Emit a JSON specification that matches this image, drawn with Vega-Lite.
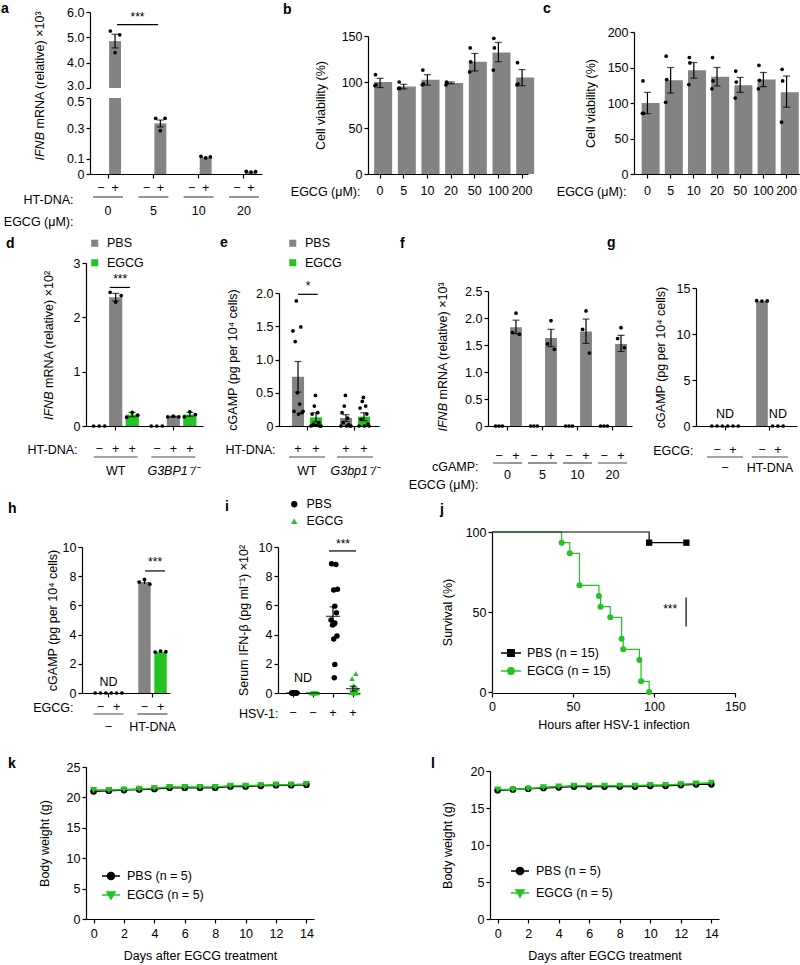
{
"$schema":"https://vega.github.io/schema/vega-lite/v6.json",
"background":"white",
"autosize":{"type":"none"},
"padding":{"left":0,"top":0,"right":800,"bottom":965},
"config":{
 "view":{"stroke":null},
 "font":"Liberation Sans",
 "axis":{"labelFont":"Liberation Sans","titleFont":"Liberation Sans","labelFontSize":12.5,"titleFontSize":12.5,"titleFontWeight":"normal","labelColor":"#000","titleColor":"#000","domainColor":"#000","tickColor":"#000","domainWidth":1.2,"tickWidth":1.2,"tickSize":4,"grid":false,"labelPadding":2,"labelFlush":false,"labelOverlap":false},
 "axisX":{"labelAngle":0},
 "legend":{"labelFont":"Liberation Sans","labelFontSize":12.5,"labelColor":"#000","padding":0},
 "title":{"font":"Liberation Sans","fontSize":14,"fontWeight":"bold","anchor":"start","frame":"group","color":"#000","offset":0,"baseline":"bottom"},
 "bar":{"color":"#838383"},
 "text":{"font":"Liberation Sans","fontSize":12.5,"color":"#000"},
 "tick":{"color":"#000","thickness":1.2},
 "rule":{"color":"#000","strokeWidth":1.2},
 "point":{"filled":true,"color":"#000","opacity":1},
 "line":{"strokeWidth":1.3}
},
"datasets":{
 "a_bar":[{"g":"0","s":"+","v":4.85},{"g":"5","s":"+","v":0.333},{"g":"10","s":"+","v":0.11},{"g":"20","s":"+","v":0.015}],
 "a_err":[{"g":"0","s":"+","v":4.58,"v2":5.12},{"g":"5","s":"+","v":0.31,"v2":0.355}],
 "a_dot":[{"g":"0","sr":"+1","v":5.25},{"g":"0","sr":"+2","v":4.4},{"g":"0","sr":"+3","v":5.1},{"g":"5","sr":"+1","v":0.366},{"g":"5","sr":"+2","v":0.285},{"g":"5","sr":"+3","v":0.366},{"g":"10","sr":"+1","v":0.116},{"g":"10","sr":"+2","v":0.106},{"g":"10","sr":"+3","v":0.112},{"g":"20","sr":"+1","v":0.017},{"g":"20","sr":"+2","v":0.013},{"g":"20","sr":"+3","v":0.016}],
 "a_sgn":[{"g":"0","s":"−","v":0},{"g":"0","s":"+","v":0},{"g":"5","s":"−","v":0},{"g":"5","s":"+","v":0},{"g":"10","s":"−","v":0},{"g":"10","s":"+","v":0},{"g":"20","s":"−","v":0},{"g":"20","s":"+","v":0}],
 "a_grp":[{"g":"0","v":0},{"g":"5","v":0},{"g":"10","v":0},{"g":"20","v":0}],
 "b_bar":[{"g":"0","v":100},{"g":"5","v":95},{"g":"10","v":102.5},{"g":"20","v":99},{"g":"50","v":122},{"g":"100","v":132},{"g":"200","v":105}],
 "b_err":[{"g":"0","v":94,"v2":104},{"g":"5","v":92.5,"v2":97.5},{"g":"10","v":96.5,"v2":108},{"g":"20","v":98,"v2":100},{"g":"50","v":112,"v2":131},{"g":"100","v":122,"v2":143},{"g":"200","v":96,"v2":113.5}],
 "b_dot":[{"g":"0","r":"1","v":96},{"g":"0","r":"2","v":108},{"g":"0","r":"3","v":97},{"g":"5","r":"1","v":93},{"g":"5","r":"2","v":100},{"g":"5","r":"3","v":93},{"g":"10","r":"1","v":97},{"g":"10","r":"2","v":113},{"g":"10","r":"3","v":98},{"g":"20","r":"1","v":97},{"g":"20","r":"2","v":100},{"g":"20","r":"3","v":99},{"g":"50","r":"1","v":111},{"g":"50","r":"2","v":137},{"g":"50","r":"3","v":122},{"g":"100","r":"1","v":113},{"g":"100","r":"2","v":147.5},{"g":"100","r":"3","v":137},{"g":"200","r":"1","v":97},{"g":"200","r":"2","v":121},{"g":"200","r":"3","v":98}],
 "c_bar":[{"g":"0","v":100},{"g":"5","v":132},{"g":"10","v":146},{"g":"20","v":137},{"g":"50","v":125},{"g":"100","v":133},{"g":"200","v":115}],
 "c_err":[{"g":"0","v":85,"v2":115},{"g":"5","v":114,"v2":150},{"g":"10","v":135,"v2":157},{"g":"20","v":124,"v2":150},{"g":"50","v":115,"v2":136},{"g":"100","v":123,"v2":143},{"g":"200","v":94,"v2":138}],
 "c_dot":[{"g":"0","r":"1","v":85.5},{"g":"0","r":"2","v":131},{"g":"0","r":"3","v":85.5},{"g":"5","r":"1","v":101},{"g":"5","r":"2","v":166},{"g":"5","r":"3","v":133},{"g":"10","r":"1","v":126},{"g":"10","r":"2","v":164},{"g":"10","r":"3","v":156.5},{"g":"20","r":"1","v":120},{"g":"20","r":"2","v":164},{"g":"20","r":"3","v":131},{"g":"50","r":"1","v":107},{"g":"50","r":"2","v":145},{"g":"50","r":"3","v":129.5},{"g":"100","r":"1","v":120},{"g":"100","r":"2","v":153},{"g":"100","r":"3","v":132},{"g":"200","r":"1","v":73},{"g":"200","r":"2","v":147.5},{"g":"200","r":"3","v":131}],
 "d_bar":[{"g":"WT","s":"2","t":"PBS","v":2.37},{"g":"WT","s":"3","t":"EGCG","v":0.21},{"g":"G3BP1⁻/⁻","s":"2","t":"PBS","v":0.17},{"g":"G3BP1⁻/⁻","s":"3","t":"EGCG","v":0.21}],
 "d_err":[{"g":"WT","s":"2","v":2.30,"v2":2.44},{"g":"WT","s":"3","v":0.17,"v2":0.25},{"g":"G3BP1⁻/⁻","s":"2","v":0.165,"v2":0.18},{"g":"G3BP1⁻/⁻","s":"3","v":0.18,"v2":0.25}],
 "d_dot":[{"g":"WT","sr":"11","v":0},{"g":"WT","sr":"12","v":0},{"g":"WT","sr":"13","v":0},{"g":"WT","sr":"21","v":2.46},{"g":"WT","sr":"22","v":2.28},{"g":"WT","sr":"23","v":2.40},{"g":"WT","sr":"31","v":0.16},{"g":"WT","sr":"32","v":0.25},{"g":"WT","sr":"33","v":0.2},{"g":"G3BP1⁻/⁻","sr":"11","v":0},{"g":"G3BP1⁻/⁻","sr":"12","v":0},{"g":"G3BP1⁻/⁻","sr":"13","v":0},{"g":"G3BP1⁻/⁻","sr":"21","v":0.17},{"g":"G3BP1⁻/⁻","sr":"22","v":0.18},{"g":"G3BP1⁻/⁻","sr":"23","v":0.17},{"g":"G3BP1⁻/⁻","sr":"31","v":0.17},{"g":"G3BP1⁻/⁻","sr":"32","v":0.26},{"g":"G3BP1⁻/⁻","sr":"33","v":0.21}],
 "d_sgn":[{"g":"WT","s":"1","lab":"−","v":0},{"g":"WT","s":"2","lab":"+","v":0},{"g":"WT","s":"3","lab":"+","v":0},{"g":"G3BP1⁻/⁻","s":"1","lab":"−","v":0},{"g":"G3BP1⁻/⁻","s":"2","lab":"+","v":0},{"g":"G3BP1⁻/⁻","s":"3","lab":"+","v":0}],
 "d_grp":[{"g":"WT","v":0},{"g":"G3BP1⁻/⁻","v":0}],
 "e_bar":[{"g":"WT","t":"PBS","v":0.74},{"g":"WT","t":"EGCG","v":0.13},{"g":"G3bp1⁻/⁻","t":"PBS","v":0.12},{"g":"G3bp1⁻/⁻","t":"EGCG","v":0.14}],
 "e_err":[{"g":"WT","t":"PBS","v":0.51,"v2":0.97},{"g":"WT","t":"EGCG","v":0.06,"v2":0.2},{"g":"G3bp1⁻/⁻","t":"PBS","v":0.07,"v2":0.17},{"g":"G3bp1⁻/⁻","t":"EGCG","v":0.08,"v2":0.2}],
 "e_dot":[{"g":"WT","tr":"P0","v":1.43},{"g":"WT","tr":"P1","v":0.22},{"g":"WT","tr":"P2","v":1.27},{"g":"WT","tr":"P3","v":1.88},{"g":"WT","tr":"P4","v":0.5},{"g":"WT","tr":"P5","v":0.18},{"g":"WT","tr":"P6","v":0.33},{"g":"WT","tr":"P7","v":1.49},{"g":"WT","tr":"P8","v":0.2},{"g":"WT","tr":"P9","v":0.22},
  {"g":"WT","tr":"E0","v":0},{"g":"WT","tr":"E1","v":0.18},{"g":"WT","tr":"E2","v":0.02},{"g":"WT","tr":"E3","v":0.3},{"g":"WT","tr":"E4","v":0.46},{"g":"WT","tr":"E5","v":0.01},{"g":"WT","tr":"E6","v":0.2},{"g":"WT","tr":"E7","v":0.05},{"g":"WT","tr":"E8","v":0},{"g":"WT","tr":"E9","v":0},
  {"g":"G3bp1⁻/⁻","tr":"P0","v":0},{"g":"G3bp1⁻/⁻","tr":"P1","v":0.2},{"g":"G3bp1⁻/⁻","tr":"P2","v":0.05},{"g":"G3bp1⁻/⁻","tr":"P3","v":0.3},{"g":"G3bp1⁻/⁻","tr":"P4","v":0.46},{"g":"G3bp1⁻/⁻","tr":"P5","v":0},{"g":"G3bp1⁻/⁻","tr":"P6","v":0.12},{"g":"G3bp1⁻/⁻","tr":"P7","v":0.02},{"g":"G3bp1⁻/⁻","tr":"P8","v":0},{"g":"G3bp1⁻/⁻","tr":"P9","v":0},
  {"g":"G3bp1⁻/⁻","tr":"E0","v":0},{"g":"G3bp1⁻/⁻","tr":"E1","v":0.27},{"g":"G3bp1⁻/⁻","tr":"E2","v":0.1},{"g":"G3bp1⁻/⁻","tr":"E3","v":0.37},{"g":"G3bp1⁻/⁻","tr":"E4","v":0.43},{"g":"G3bp1⁻/⁻","tr":"E5","v":0},{"g":"G3bp1⁻/⁻","tr":"E6","v":0.3},{"g":"G3bp1⁻/⁻","tr":"E7","v":0.18},{"g":"G3bp1⁻/⁻","tr":"E8","v":0.03},{"g":"G3bp1⁻/⁻","tr":"E9","v":0}],
 "e_sgn":[{"g":"WT","t":"PBS","lab":"+","v":0},{"g":"WT","t":"EGCG","lab":"+","v":0},{"g":"G3bp1⁻/⁻","t":"PBS","lab":"+","v":0},{"g":"G3bp1⁻/⁻","t":"EGCG","lab":"+","v":0}],
 "e_grp":[{"g":"WT","v":0},{"g":"G3bp1⁻/⁻","v":0}],
 "f_bar":[{"g":"0","s":"+","v":1.83},{"g":"5","s":"+","v":1.63},{"g":"10","s":"+","v":1.75},{"g":"20","s":"+","v":1.52}],
 "f_err":[{"g":"0","s":"+","v":1.71,"v2":1.96},{"g":"5","s":"+","v":1.47,"v2":1.79},{"g":"10","s":"+","v":1.53,"v2":1.98},{"g":"20","s":"+","v":1.38,"v2":1.68}],
 "f_dot":[{"g":"0","sr":"−1","v":0},{"g":"0","sr":"−2","v":0},{"g":"0","sr":"−3","v":0},{"g":"0","sr":"+1","v":1.73},{"g":"0","sr":"+2","v":2.09},{"g":"0","sr":"+3","v":1.70},
  {"g":"5","sr":"−1","v":0},{"g":"5","sr":"−2","v":0},{"g":"5","sr":"−3","v":0},{"g":"5","sr":"+1","v":1.52},{"g":"5","sr":"+2","v":1.95},{"g":"5","sr":"+3","v":1.42},
  {"g":"10","sr":"−1","v":0},{"g":"10","sr":"−2","v":0},{"g":"10","sr":"−3","v":0},{"g":"10","sr":"+1","v":1.79},{"g":"10","sr":"+2","v":2.13},{"g":"10","sr":"+3","v":1.35},
  {"g":"20","sr":"−1","v":0},{"g":"20","sr":"−2","v":0},{"g":"20","sr":"−3","v":0},{"g":"20","sr":"+1","v":1.62},{"g":"20","sr":"+2","v":1.82},{"g":"20","sr":"+3","v":1.45}],
 "f_sgn":[{"g":"0","s":"−","v":0},{"g":"0","s":"+","v":0},{"g":"5","s":"−","v":0},{"g":"5","s":"+","v":0},{"g":"10","s":"−","v":0},{"g":"10","s":"+","v":0},{"g":"20","s":"−","v":0},{"g":"20","s":"+","v":0}],
 "f_grp":[{"g":"0","v":0},{"g":"5","v":0},{"g":"10","v":0},{"g":"20","v":0}],
 "g_bar":[{"g":"HT-DNA","s":"−","v":13.6}],
 "g_err":[{"g":"HT-DNA","s":"−","v":13.55,"v2":13.65}],
 "g_dot":[{"g":"−","sr":"−1","v":0},{"g":"−","sr":"−2","v":0},{"g":"−","sr":"−3","v":0},{"g":"−","sr":"+1","v":0},{"g":"−","sr":"+2","v":0},{"g":"−","sr":"+3","v":0},{"g":"HT-DNA","sr":"−1","v":13.62},{"g":"HT-DNA","sr":"−2","v":13.58},{"g":"HT-DNA","sr":"−3","v":13.6},{"g":"HT-DNA","sr":"+1","v":0},{"g":"HT-DNA","sr":"+2","v":0},{"g":"HT-DNA","sr":"+3","v":0}],
 "g_sgn":[{"g":"−","s":"−","v":0},{"g":"−","s":"+","v":0},{"g":"HT-DNA","s":"−","v":0},{"g":"HT-DNA","s":"+","v":0}],
 "g_grp":[{"g":"−","v":0},{"g":"HT-DNA","v":0}],
 "h_bar":[{"g":"HT-DNA","s":"−","t":"PBS","v":7.6},{"g":"HT-DNA","s":"+","t":"EGCG","v":2.82}],
 "h_err":[{"g":"HT-DNA","s":"−","v":7.47,"v2":7.73},{"g":"HT-DNA","s":"+","v":2.79,"v2":2.86}],
 "h_dot":[{"g":"−","sr":"−1","v":0},{"g":"−","sr":"−2","v":0},{"g":"−","sr":"−3","v":0},{"g":"−","sr":"+1","v":0},{"g":"−","sr":"+2","v":0},{"g":"−","sr":"+3","v":0},{"g":"HT-DNA","sr":"−1","v":7.6},{"g":"HT-DNA","sr":"−2","v":7.78},{"g":"HT-DNA","sr":"−3","v":7.45},{"g":"HT-DNA","sr":"+1","v":2.8},{"g":"HT-DNA","sr":"+2","v":2.87},{"g":"HT-DNA","sr":"+3","v":2.83}],
 "h_sgn":[{"g":"−","s":"−","v":0},{"g":"−","s":"+","v":0},{"g":"HT-DNA","s":"−","v":0},{"g":"HT-DNA","s":"+","v":0}],
 "h_grp":[{"g":"−","v":0},{"g":"HT-DNA","v":0}],
 "i_pt":[{"g":"c1","t":"PBS","r":"r2","v":0},{"g":"c1","t":"PBS","r":"r4","v":0},{"g":"c1","t":"PBS","r":"r6","v":0},{"g":"c1","t":"PBS","r":"r8","v":0},{"g":"c1","t":"PBS","r":"r10","v":0},{"g":"c1","t":"PBS","r":"r12","v":0},{"g":"c1","t":"PBS","r":"r3","v":0},{"g":"c1","t":"PBS","r":"r11","v":0},
  {"g":"c2","t":"EGCG","r":"r1","v":0},{"g":"c2","t":"EGCG","r":"r3","v":0},{"g":"c2","t":"EGCG","r":"r5","v":0},{"g":"c2","t":"EGCG","r":"r7","v":0},{"g":"c2","t":"EGCG","r":"r9","v":0},{"g":"c2","t":"EGCG","r":"r11","v":0},{"g":"c2","t":"EGCG","r":"r13","v":0},{"g":"c2","t":"EGCG","r":"r6","v":0},
  {"g":"c3","t":"PBS","r":"r2","v":8.85},{"g":"c3","t":"PBS","r":"r10","v":8.8},{"g":"c3","t":"PBS","r":"r13","v":7.1},{"g":"c3","t":"PBS","r":"r6","v":7.05},{"g":"c3","t":"PBS","r":"r8","v":5.95},{"g":"c3","t":"PBS","r":"r11","v":5.5},{"g":"c3","t":"PBS","r":"r1","v":5.0},{"g":"c3","t":"PBS","r":"r8","v":4.8},{"g":"c3","t":"PBS","r":"r4","v":4.65},{"g":"c3","t":"PBS","r":"r12","v":3.9},{"g":"c3","t":"PBS","r":"r6","v":3.7},{"g":"c3","t":"PBS","r":"r8","v":1.95},{"g":"c3","t":"PBS","r":"r7","v":1.05},
  {"g":"c4","t":"EGCG","r":"r10","v":1.33},{"g":"c4","t":"EGCG","r":"r3","v":0.99},{"g":"c4","t":"EGCG","r":"r6","v":0.53},{"g":"c4","t":"EGCG","r":"r12","v":0.3},{"g":"c4","t":"EGCG","r":"r8","v":0.18},{"g":"c4","t":"EGCG","r":"r4","v":0.1},{"g":"c4","t":"EGCG","r":"r1","v":0.02},{"g":"c4","t":"EGCG","r":"r5","v":0},{"g":"c4","t":"EGCG","r":"r7","v":0},{"g":"c4","t":"EGCG","r":"r9","v":0},{"g":"c4","t":"EGCG","r":"r11","v":0.03},{"g":"c4","t":"EGCG","r":"r13","v":0}],
 "i_mean":[{"g":"c1","v":0},{"g":"c2","v":0},{"g":"c3","v":5.25},{"g":"c4","v":0.3}],
 "i_err":[{"g":"c3","v":4.6,"v2":5.9},{"g":"c4","v":0.14,"v2":0.46}],
 "j_s":[{"t":"EGCG","h":0,"p":100},{"t":"EGCG","h":43,"p":93.33},{"t":"EGCG","h":48,"p":86.67},{"t":"EGCG","h":54,"p":66.67},{"t":"EGCG","h":66,"p":60},{"t":"EGCG","h":67,"p":53.33},{"t":"EGCG","h":73,"p":46.67},{"t":"EGCG","h":80,"p":33.33},{"t":"EGCG","h":81,"p":26.67},{"t":"EGCG","h":91,"p":20},{"t":"EGCG","h":92,"p":6.67},{"t":"EGCG","h":97,"p":0},
  {"t":"PBS","h":0,"p":100},{"t":"PBS","h":97,"p":93.33},{"t":"PBS","h":120,"p":93.33}],
 "k_w":[{"t":"PBS","d":0,"w":21.0},{"t":"PBS","d":1,"w":21.1},{"t":"PBS","d":2,"w":21.2},{"t":"PBS","d":3,"w":21.3},{"t":"PBS","d":4,"w":21.4},{"t":"PBS","d":5,"w":21.6},{"t":"PBS","d":6,"w":21.6},{"t":"PBS","d":7,"w":21.6},{"t":"PBS","d":8,"w":21.6},{"t":"PBS","d":9,"w":21.8},{"t":"PBS","d":10,"w":21.8},{"t":"PBS","d":11,"w":21.9},{"t":"PBS","d":12,"w":22.0},{"t":"PBS","d":13,"w":22.0},{"t":"PBS","d":14,"w":22.1},
  {"t":"EGCG","d":0,"w":21.2},{"t":"EGCG","d":1,"w":21.2},{"t":"EGCG","d":2,"w":21.3},{"t":"EGCG","d":3,"w":21.4},{"t":"EGCG","d":4,"w":21.5},{"t":"EGCG","d":5,"w":21.7},{"t":"EGCG","d":6,"w":21.7},{"t":"EGCG","d":7,"w":21.7},{"t":"EGCG","d":8,"w":21.7},{"t":"EGCG","d":9,"w":21.9},{"t":"EGCG","d":10,"w":21.9},{"t":"EGCG","d":11,"w":22.0},{"t":"EGCG","d":12,"w":22.1},{"t":"EGCG","d":13,"w":22.1},{"t":"EGCG","d":14,"w":22.2}],
 "l_w":[{"t":"PBS","d":0,"w":17.4},{"t":"PBS","d":1,"w":17.5},{"t":"PBS","d":2,"w":17.6},{"t":"PBS","d":3,"w":17.7},{"t":"PBS","d":4,"w":17.8},{"t":"PBS","d":5,"w":17.9},{"t":"PBS","d":6,"w":17.9},{"t":"PBS","d":7,"w":17.9},{"t":"PBS","d":8,"w":17.9},{"t":"PBS","d":9,"w":17.9},{"t":"PBS","d":10,"w":18.0},{"t":"PBS","d":11,"w":18.0},{"t":"PBS","d":12,"w":18.1},{"t":"PBS","d":13,"w":18.2},{"t":"PBS","d":14,"w":18.2},
  {"t":"EGCG","d":0,"w":17.5},{"t":"EGCG","d":1,"w":17.5},{"t":"EGCG","d":2,"w":17.6},{"t":"EGCG","d":3,"w":17.8},{"t":"EGCG","d":4,"w":17.9},{"t":"EGCG","d":5,"w":18.0},{"t":"EGCG","d":6,"w":18.0},{"t":"EGCG","d":7,"w":18.0},{"t":"EGCG","d":8,"w":18.0},{"t":"EGCG","d":9,"w":18.0},{"t":"EGCG","d":10,"w":18.1},{"t":"EGCG","d":11,"w":18.1},{"t":"EGCG","d":12,"w":18.2},{"t":"EGCG","d":13,"w":18.3},{"t":"EGCG","d":14,"w":18.4}]
},
"concat":[
 {"width":86,"height":174,"data":{"values":[]},"mark":"point"},
 {"width":192,"height":174,
  "title":{"text":"a","dx":-85,"dy":20},
  "encoding":{"x":{"field":"g","type":"nominal","scale":{"domain":["0","5","10","20"],"range":[4,176],"paddingInner":0.38,"paddingOuter":0.088},"axis":{"title":["HT-DNA:","EGCG (μM):"],"titleX":-13,"titleY":25,"titleAlign":"right","titleBaseline":"middle","titleLineHeight":22,"labelPadding":26}}},
  "layer":[
   {"encoding":{"y":{"field":"v","type":"quantitative","scale":{"domain":[3,6],"range":[88,12],"nice":false,"zero":false},"axis":{"orient":"left","offset":-4,"values":[3,4,5,6],"labelExpr":"format(datum.value,'.1f')","labelOffset":{"condition":{"test":"datum.value == 3","value":-3},"value":0},"title":"mRNA (relative) ×10³","titleX":-51,"titleY":128,"titleAlign":"left","titleBaseline":"middle"}}},
    "layer":[
     {"data":{"name":"a_bar"},"transform":[{"filter":"datum.v >= 3"}],"mark":"bar","encoding":{"xOffset":{"field":"s","type":"nominal","scale":{"domain":["−","+"],"paddingInner":0.15,"paddingOuter":0.075}},"y2":{"datum":3}}},
     {"data":{"name":"a_err"},"transform":[{"filter":"datum.v >= 3"}],"mark":"rule","encoding":{"xOffset":{"field":"s","type":"nominal","scale":{"domain":["−","+"]}},"y2":{"field":"v2"}}},
     {"data":{"name":"a_err"},"transform":[{"filter":"datum.v >= 3"},{"fold":["v","v2"],"as":["k","v"]}],"mark":{"type":"tick","orient":"horizontal","size":7},"encoding":{"xOffset":{"field":"s","type":"nominal","scale":{"domain":["−","+"]}}}},
     {"data":{"name":"a_dot"},"transform":[{"filter":"datum.v >= 3"}],"mark":{"type":"point","size":14},"encoding":{"xOffset":{"field":"sr","type":"nominal","scale":{"domain":["−1","−2","−3","+1","+2","+3"]}}}},
     {"data":{"values":[{"g":"0","g2":"5","v":5.5}]},"mark":"rule","encoding":{"x":{"field":"g","type":"nominal","bandPosition":0.82,"scale":{"domain":["0","5","10","20"],"range":[4,176],"paddingInner":0.38,"paddingOuter":0.088}},"x2":{"field":"g2","bandPosition":0.67}}},
     {"data":{"values":[{"g":"0","v":5.8,"lab":"***"}]},"mark":{"type":"text","baseline":"middle","fontSize":12},"encoding":{"x":{"field":"g","type":"nominal","bandPosition":1.55,"scale":{"domain":["0","5","10","20"],"range":[4,176],"paddingInner":0.38,"paddingOuter":0.088}},"text":{"field":"lab"}}}
    ],
    "resolve":{"scale":{"xOffset":"independent"}}},
   {"encoding":{"y":{"field":"v","type":"quantitative","scale":{"domain":[0,0.5],"range":[174,98],"nice":false,"zero":false,"clamp":true},"axis":{"orient":"left","offset":-4,"values":[0,0.1,0.3,0.5],"labelExpr":"datum.value == 0 ? '0' : format(datum.value,'.1f')","labelOffset":{"condition":{"test":"datum.value == 0.5","value":3},"value":0},"title":"IFNB","titleFontStyle":"italic","titleX":-51,"titleY":160,"titleAlign":"left","titleBaseline":"middle"}}},
    "layer":[
     {"data":{"name":"a_bar"},"mark":"bar","encoding":{"xOffset":{"field":"s","type":"nominal","scale":{"domain":["−","+"],"paddingInner":0.15,"paddingOuter":0.075}}}},
     {"data":{"name":"a_err"},"transform":[{"filter":"datum.v2 <= 0.5"}],"mark":"rule","encoding":{"xOffset":{"field":"s","type":"nominal","scale":{"domain":["−","+"]}},"y2":{"field":"v2"}}},
     {"data":{"name":"a_err"},"transform":[{"filter":"datum.v2 <= 0.5"},{"fold":["v","v2"],"as":["k","v"]}],"mark":{"type":"tick","orient":"horizontal","size":7},"encoding":{"xOffset":{"field":"s","type":"nominal","scale":{"domain":["−","+"]}}}},
     {"data":{"name":"a_dot"},"transform":[{"filter":"datum.v <= 0.5"}],"mark":{"type":"point","size":14},"encoding":{"xOffset":{"field":"sr","type":"nominal","scale":{"domain":["−1","−2","−3","+1","+2","+3"]}}}},
     {"data":{"name":"a_sgn"},"mark":{"type":"text","dy":14,"baseline":"middle"},"encoding":{"xOffset":{"field":"s","type":"nominal","scale":{"domain":["−","+"]}},"text":{"field":"s"}}},
     {"data":{"name":"a_grp"},"mark":{"type":"tick","orient":"horizontal","size":30,"yOffset":23}}
    ],
    "resolve":{"scale":{"xOffset":"independent"}}}
  ],
  "resolve":{"scale":{"y":"independent","xOffset":"independent"},"axis":{"y":"independent"}}},
 {"width":90,"height":174,"data":{"values":[]},"mark":"point"},
 {"width":122,"height":174,
  "title":{"text":"b","dx":-85,"dy":20.5},
  "encoding":{"x":{"field":"g","type":"nominal","scale":{"domain":["0","5","10","20","50","100","200"],"range":[0,160],"paddingInner":0.5,"paddingOuter":0.13,"align":1},"axis":{"title":"EGCG (μM):","titleX":-8,"titleY":17,"titleAlign":"right","titleBaseline":"middle","labelPadding":6}},
    "y":{"field":"v","type":"quantitative","scale":{"domain":[0,150],"range":[174,36],"nice":false,"zero":false},"axis":{"values":[0,50,100,150],"title":"Cell viability (%)","titleX":-48,"titleBaseline":"middle"}}},
  "layer":[
   {"data":{"name":"b_bar"},"mark":"bar"},
   {"data":{"name":"b_err"},"mark":"rule","encoding":{"y2":{"field":"v2"}}},
   {"data":{"name":"b_err"},"transform":[{"fold":["v","v2"],"as":["k","v"]}],"mark":{"type":"tick","orient":"horizontal","size":7}},
   {"data":{"name":"b_dot"},"mark":{"type":"point","size":14},"encoding":{"xOffset":{"field":"r","type":"nominal","scale":{"domain":["_a","1","2","3","_b"]}}}}
  ]},
 {"width":144,"height":174,"data":{"values":[]},"mark":"point"},
 {"width":62,"height":174,
  "title":{"text":"c","dx":-91,"dy":20},
  "encoding":{"x":{"field":"g","type":"nominal","scale":{"domain":["0","5","10","20","50","100","200"],"range":[0,166],"paddingInner":0.5,"paddingOuter":0.33},"axis":{"title":"EGCG (μM):","titleX":-8,"titleY":17,"titleAlign":"right","titleBaseline":"middle","labelPadding":6}},
    "y":{"field":"v","type":"quantitative","scale":{"domain":[0,200],"range":[174,32],"nice":false,"zero":false},"axis":{"values":[0,50,100,150,200],"title":"Cell viability (%)","titleX":-44,"titleBaseline":"middle"}}},
  "layer":[
   {"data":{"name":"c_bar"},"mark":"bar"},
   {"data":{"name":"c_err"},"mark":"rule","encoding":{"y2":{"field":"v2"}}},
   {"data":{"name":"c_err"},"transform":[{"fold":["v","v2"],"as":["k","v"]}],"mark":{"type":"tick","orient":"horizontal","size":7}},
   {"data":{"name":"c_dot"},"mark":{"type":"point","size":14},"encoding":{"xOffset":{"field":"r","type":"nominal","scale":{"domain":["_a","1","2","3","_b"]}}}}
  ]},
 {"width":104,"height":174,"data":{"values":[]},"mark":"point"},

 {"width":86,"height":252,"data":{"values":[]},"mark":"point"},
 {"width":192,"height":252,
  "title":{"text":"d","dx":-80,"dy":81},
  "encoding":{"x":{"field":"g","type":"nominal","scale":{"domain":["WT","G3BP1⁻/⁻"],"range":[0,117],"paddingInner":0.14,"paddingOuter":0.085},"axis":{"title":"HT-DNA:","titleX":-9,"titleY":23,"titleAlign":"right","titleBaseline":"middle","labelPadding":34.5,"labelFontStyle":{"condition":{"test":"datum.value != 'WT'","value":"italic"},"value":"normal"}}}},
  "layer":[
   {"encoding":{"y":{"field":"v","type":"quantitative","scale":{"domain":[0,3],"range":[252,89],"nice":false,"zero":false},"axis":{"orient":"left","values":[0,1,2,3],"title":"mRNA (relative) ×10²","titleX":-38,"titleY":213.5,"titleAlign":"left","titleBaseline":"middle"}}},
    "layer":[
     {"data":{"name":"d_bar"},"mark":"bar","encoding":{"xOffset":{"field":"s","type":"nominal","scale":{"domain":["1","2","3"],"paddingInner":0.2,"paddingOuter":0.1}},"color":{"field":"t","type":"nominal","scale":{"domain":["PBS","EGCG"],"range":["#838383","#22c322"]},"legend":{"orient":"none","legendX":2.5,"legendY":63,"title":null,"symbolType":"square","symbolSize":50,"symbolStrokeWidth":0,"rowPadding":6.5,"labelOffset":6}}}},
     {"data":{"name":"d_err"},"mark":"rule","encoding":{"xOffset":{"field":"s","type":"nominal","scale":{"domain":["1","2","3"]}},"y2":{"field":"v2"}}},
     {"data":{"name":"d_err"},"transform":[{"fold":["v","v2"],"as":["k","v"]}],"mark":{"type":"tick","orient":"horizontal","size":7},"encoding":{"xOffset":{"field":"s","type":"nominal","scale":{"domain":["1","2","3"]}}}},
     {"data":{"name":"d_dot"},"mark":{"type":"point","size":14},"encoding":{"xOffset":{"field":"sr","type":"nominal","scale":{"domain":["11","12","13","21","22","23","31","32","33"]}}}},
     {"data":{"name":"d_sgn"},"mark":{"type":"text","dy":23,"baseline":"middle"},"encoding":{"xOffset":{"field":"s","type":"nominal","scale":{"domain":["1","2","3"]}},"text":{"field":"lab"}}},
     {"data":{"name":"d_grp"},"mark":{"type":"tick","orient":"horizontal","size":44,"yOffset":31}},
     {"data":{"values":[{"g":"WT","v":2.55}]},"mark":"rule","encoding":{"x":{"field":"g","type":"nominal","bandPosition":0.38,"scale":{"domain":["WT","G3BP1⁻/⁻"],"range":[0,117],"paddingInner":0.14,"paddingOuter":0.085}},"x2":{"field":"g","bandPosition":0.79}}},
     {"data":{"values":[{"g":"WT","v":2.7,"lab":"***"}]},"mark":{"type":"text","baseline":"middle","fontSize":12},"encoding":{"x":{"field":"g","type":"nominal","bandPosition":0.59,"scale":{"domain":["WT","G3BP1⁻/⁻"],"range":[0,117],"paddingInner":0.14,"paddingOuter":0.085}},"text":{"field":"lab"}}}
    ],
    "resolve":{"scale":{"xOffset":"independent"}}},
   {"data":{"values":[{"v":0}]},"mark":{"type":"point","opacity":0},"encoding":{"y":{"field":"v","type":"quantitative","scale":{"domain":[0,3],"range":[252,89],"nice":false,"zero":false},"axis":{"orient":"left","title":"IFNB","titleFontStyle":"italic","titleX":-38,"titleY":245.5,"titleAlign":"left","titleBaseline":"middle","domain":false,"ticks":false,"labels":false}}}}
  ],
  "resolve":{"scale":{"y":"independent","xOffset":"independent","color":"independent"},"axis":{"y":"independent"}}},
 {"width":90,"height":252,
  "title":{"text":"e","dx":-58,"dy":79.5},
  "encoding":{"x":{"field":"g","type":"nominal","scale":{"domain":["WT","G3bp1⁻/⁻"],"range":[1,101],"paddingInner":0.25,"paddingOuter":0.167,"align":0.625},"axis":{"title":"HT-DNA:","titleX":-3,"titleY":23,"titleAlign":"right","titleBaseline":"middle","labelPadding":34.5,"labelFontStyle":{"condition":{"test":"datum.value != 'WT'","value":"italic"},"value":"normal"}}},
    "y":{"field":"v","type":"quantitative","scale":{"domain":[0,2],"range":[252,119],"nice":false,"zero":false},"axis":{"offset":-1,"values":[0,0.5,1,1.5,2],"labelExpr":"datum.value == 0 ? '0' : format(datum.value,'.1f')","title":"cGAMP (pg per 10⁴ cells)","titleX":-47,"titleBaseline":"middle"}}},
  "layer":[
   {"data":{"name":"e_bar"},"mark":"bar","encoding":{"xOffset":{"field":"t","type":"nominal","scale":{"domain":["PBS","EGCG"],"paddingInner":0.33,"paddingOuter":0.165}},"color":{"field":"t","type":"nominal","scale":{"domain":["PBS","EGCG"],"range":["#838383","#22c322"]},"legend":{"orient":"none","legendX":8.5,"legendY":63,"title":null,"symbolType":"square","symbolSize":50,"symbolStrokeWidth":0,"rowPadding":6.5,"labelOffset":6}}}},
   {"data":{"name":"e_err"},"mark":"rule","encoding":{"xOffset":{"field":"t","type":"nominal","scale":{"domain":["PBS","EGCG"]}},"y2":{"field":"v2"}}},
   {"data":{"name":"e_err"},"transform":[{"fold":["v","v2"],"as":["k","v"]}],"mark":{"type":"tick","orient":"horizontal","size":7},"encoding":{"xOffset":{"field":"t","type":"nominal","scale":{"domain":["PBS","EGCG"]}}}},
   {"data":{"name":"e_dot"},"mark":{"type":"point","size":14},"encoding":{"xOffset":{"field":"tr","type":"nominal","scale":{"domain":["_1","_2","_3","P0","P1","P2","P3","P4","P5","P6","P7","P8","P9","_4","_5","_6","_7","_8","_9","E0","E1","E2","E3","E4","E5","E6","E7","E8","E9","_10","_11","_12"]}}}},
   {"data":{"name":"e_sgn"},"mark":{"type":"text","dy":23,"baseline":"middle"},"encoding":{"xOffset":{"field":"t","type":"nominal","scale":{"domain":["PBS","EGCG"]}},"text":{"field":"lab"}}},
   {"data":{"name":"e_grp"},"mark":{"type":"tick","orient":"horizontal","size":36,"yOffset":31}},
   {"data":{"values":[{"g":"WT","v":1.98}]},"mark":"rule","encoding":{"x":{"field":"g","type":"nominal","bandPosition":0.25,"scale":{"domain":["WT","G3bp1⁻/⁻"],"range":[1,101],"paddingInner":0.25,"paddingOuter":0.167,"align":0.625}},"x2":{"field":"g","bandPosition":0.8}}},
   {"data":{"values":[{"g":"WT","v":2.1,"lab":"*"}]},"mark":{"type":"text","baseline":"middle","fontSize":12},"encoding":{"x":{"field":"g","type":"nominal","bandPosition":0.53,"scale":{"domain":["WT","G3bp1⁻/⁻"],"range":[1,101],"paddingInner":0.25,"paddingOuter":0.167,"align":0.625}},"text":{"field":"lab"}}}
  ],
  "resolve":{"scale":{"xOffset":"independent"}}},
 {"width":122,"height":252,"data":{"values":[]},"mark":"point"},
 {"width":144,"height":252,
  "title":{"text":"f","dx":-90,"dy":81},
  "encoding":{"x":{"field":"g","type":"nominal","scale":{"domain":["0","5","10","20"],"range":[-2,142],"paddingInner":0.03,"paddingOuter":0.071},"axis":{"title":["cGAMP:","EGCG (μM):"],"titleX":-12,"titleY":40,"titleAlign":"right","titleBaseline":"middle","titleLineHeight":18,"labelPadding":38.5}}},
  "layer":[
   {"encoding":{"y":{"field":"v","type":"quantitative","scale":{"domain":[0,2.5],"range":[252,117],"nice":false,"zero":false},"axis":{"orient":"left","offset":2,"values":[0,0.5,1,1.5,2,2.5],"labelExpr":"datum.value == 0 ? '0' : format(datum.value,'.1f')","title":"mRNA (relative) ×10³","titleX":-46,"titleY":225,"titleAlign":"left","titleBaseline":"middle"}}},
    "layer":[
     {"data":{"name":"f_bar"},"mark":"bar","encoding":{"xOffset":{"field":"s","type":"nominal","scale":{"domain":["−","+"],"paddingInner":0.3,"paddingOuter":0.15}}}},
     {"data":{"name":"f_err"},"mark":"rule","encoding":{"xOffset":{"field":"s","type":"nominal","scale":{"domain":["−","+"]}},"y2":{"field":"v2"}}},
     {"data":{"name":"f_err"},"transform":[{"fold":["v","v2"],"as":["k","v"]}],"mark":{"type":"tick","orient":"horizontal","size":7},"encoding":{"xOffset":{"field":"s","type":"nominal","scale":{"domain":["−","+"]}}}},
     {"data":{"name":"f_dot"},"mark":{"type":"point","size":14},"encoding":{"xOffset":{"field":"sr","type":"nominal","scale":{"domain":["_a","−1","−2","−3","_b","_c","+1","+2","+3","_d"]}}}},
     {"data":{"name":"f_sgn"},"mark":{"type":"text","dy":30,"baseline":"middle"},"encoding":{"xOffset":{"field":"s","type":"nominal","scale":{"domain":["−","+"]}},"text":{"field":"s"}}},
     {"data":{"name":"f_grp"},"mark":{"type":"tick","orient":"horizontal","size":29,"yOffset":37}}
    ],
    "resolve":{"scale":{"xOffset":"independent"}}},
   {"data":{"values":[{"v":0}]},"mark":{"type":"point","opacity":0},"encoding":{"y":{"field":"v","type":"quantitative","scale":{"domain":[0,2.5],"range":[252,117],"nice":false,"zero":false},"axis":{"orient":"left","offset":2,"title":"IFNB","titleFontStyle":"italic","titleX":-46,"titleY":257,"titleAlign":"left","titleBaseline":"middle","domain":false,"ticks":false,"labels":false}}}}
  ],
  "resolve":{"scale":{"y":"independent","xOffset":"independent"},"axis":{"y":"independent"}}},
 {"width":62,"height":252,"data":{"values":[]},"mark":"point"},
 {"width":104,"height":252,
  "title":{"text":"g","dx":-89,"dy":79.5},
  "encoding":{"x":{"field":"g","type":"nominal","scale":{"domain":["−","HT-DNA"],"range":[0,101],"paddingInner":0.29,"paddingOuter":0.27,"align":0.54},"axis":{"title":"EGCG:","titleX":-3,"titleY":24,"titleAlign":"right","titleBaseline":"middle","labelPadding":31.5}},
    "y":{"field":"v","type":"quantitative","scale":{"domain":[0,15],"range":[252,114],"nice":false,"zero":false},"axis":{"values":[0,5,10,15],"title":"cGAMP (pg per 10⁴ cells)","titleX":-36,"titleBaseline":"middle"}}},
  "layer":[
   {"data":{"name":"g_bar"},"mark":"bar","encoding":{"xOffset":{"field":"s","type":"nominal","scale":{"domain":["−","+"],"paddingInner":0.27,"paddingOuter":0.135}}}},
   {"data":{"name":"g_err"},"mark":"rule","encoding":{"xOffset":{"field":"s","type":"nominal","scale":{"domain":["−","+"]}},"y2":{"field":"v2"}}},
   {"data":{"name":"g_dot"},"mark":{"type":"point","size":14},"encoding":{"xOffset":{"field":"sr","type":"nominal","scale":{"domain":["−1","−2","−3","+1","+2","+3"]}}}},
   {"data":{"name":"g_sgn"},"mark":{"type":"text","dy":24,"baseline":"middle"},"encoding":{"xOffset":{"field":"s","type":"nominal","scale":{"domain":["−","+"]}},"text":{"field":"s"}}},
   {"data":{"name":"g_grp"},"mark":{"type":"tick","orient":"horizontal","size":36,"yOffset":31}},
   {"data":{"values":[{"g":"−","lab":"ND","v":0}]},"mark":{"type":"text","dy":-12,"baseline":"middle"},"encoding":{"text":{"field":"lab"}}},
   {"data":{"values":[{"g":"HT-DNA","s":"+","lab":"ND","v":0}]},"mark":{"type":"text","dy":-12,"baseline":"middle"},"encoding":{"xOffset":{"field":"s","type":"nominal","scale":{"domain":["−","+"]}},"text":{"field":"lab"}}}
  ],
  "resolve":{"scale":{"xOffset":"independent"}}},

 {"width":86,"height":267,"data":{"values":[]},"mark":"point"},
 {"width":192,"height":267,
  "title":{"text":"h","dx":-78,"dy":94},
  "encoding":{"x":{"field":"g","type":"nominal","scale":{"domain":["−","HT-DNA"],"range":[-4,84],"paddingInner":0.27,"paddingOuter":0.135,"align":0.88},"axis":{"title":"EGCG:","titleX":-13,"titleY":14,"titleAlign":"right","titleBaseline":"middle","labelPadding":23.5}},
    "y":{"field":"v","type":"quantitative","scale":{"domain":[0,10],"range":[267,121],"nice":false,"zero":false},"axis":{"offset":4,"values":[0,2,4,6,8,10],"title":"cGAMP (pg per 10⁴ cells)","titleX":-30,"titleBaseline":"middle"}}},
  "layer":[
   {"data":{"name":"h_bar"},"mark":"bar","encoding":{"xOffset":{"field":"s","type":"nominal","scale":{"domain":["−","+"],"paddingInner":0.23,"paddingOuter":0.115}},"color":{"field":"t","type":"nominal","scale":{"domain":["PBS","EGCG"],"range":["#838383","#22c322"]},"legend":null}}},
   {"data":{"name":"h_err"},"mark":"rule","encoding":{"xOffset":{"field":"s","type":"nominal","scale":{"domain":["−","+"]}},"y2":{"field":"v2"}}},
   {"data":{"name":"h_dot"},"mark":{"type":"point","size":14},"encoding":{"xOffset":{"field":"sr","type":"nominal","scale":{"domain":["−1","−2","−3","+1","+2","+3"]}}}},
   {"data":{"name":"h_sgn"},"mark":{"type":"text","dy":14,"baseline":"middle"},"encoding":{"xOffset":{"field":"s","type":"nominal","scale":{"domain":["−","+"]}},"text":{"field":"s"}}},
   {"data":{"name":"h_grp"},"mark":{"type":"tick","orient":"horizontal","size":30,"yOffset":21}},
   {"data":{"values":[{"g":"−","lab":"ND","v":0}]},"mark":{"type":"text","dy":-11,"baseline":"middle"},"encoding":{"text":{"field":"lab"}}},
   {"data":{"values":[{"g":"HT-DNA","v":8.36}]},"mark":"rule","encoding":{"x":{"field":"g","type":"nominal","bandPosition":0.27,"scale":{"domain":["−","HT-DNA"],"range":[-4,84],"paddingInner":0.27,"paddingOuter":0.135,"align":0.88}},"x2":{"field":"g","bandPosition":0.89}}},
   {"data":{"values":[{"g":"HT-DNA","v":8.95,"lab":"***"}]},"mark":{"type":"text","baseline":"middle","fontSize":12},"encoding":{"x":{"field":"g","type":"nominal","bandPosition":0.58,"scale":{"domain":["−","HT-DNA"],"range":[-4,84],"paddingInner":0.27,"paddingOuter":0.135,"align":0.88}},"text":{"field":"lab"}}}
  ],
  "resolve":{"scale":{"xOffset":"independent"}}},
 {"width":90,"height":267,
  "title":{"text":"i","dx":-53,"dy":92},
  "encoding":{"x":{"field":"g","type":"nominal","scale":{"domain":["c1","c2","c3","c4"],"range":[0,82],"paddingInner":0.4,"paddingOuter":0.25,"align":0.9},"axis":{"labelExpr":"datum.value == 'c1' || datum.value == 'c2' ? '−' : '+'","labelPadding":9.5,"title":"HSV-1:","titleX":0,"titleY":20,"titleAlign":"right","titleBaseline":"middle"}},
    "y":{"field":"v","type":"quantitative","scale":{"domain":[0,10],"range":[267,121],"nice":false,"zero":false},"axis":{"values":[0,2,4,6,8,10],"title":"Serum IFN-β (pg ml⁻¹) ×10²","titleX":-35,"titleBaseline":"middle"}}},
  "layer":[
   {"data":{"name":"i_pt"},"mark":{"type":"point","size":30},"encoding":{"xOffset":{"field":"r","type":"nominal","scale":{"domain":["_1","_2","r1","r2","r3","r4","r5","r6","r7","r8","r9","r10","r11","r12","r13","_3","_4"]}},
     "color":{"field":"t","type":"nominal","scale":{"domain":["PBS","EGCG"],"range":["#000000","#22c322"]},"legend":{"orient":"none","legendX":10,"legendY":72,"title":null,"symbolSize":40,"rowPadding":4,"labelOffset":6}},
     "shape":{"field":"t","type":"nominal","scale":{"domain":["PBS","EGCG"],"range":["circle","triangle-up"]},"legend":{"orient":"none","legendX":10,"legendY":72,"title":null,"symbolSize":40,"rowPadding":4,"labelOffset":6}}}},
   {"data":{"name":"i_mean"},"mark":{"type":"tick","orient":"horizontal","size":14,"thickness":1.3}},
   {"data":{"name":"i_err"},"mark":"rule","encoding":{"y2":{"field":"v2"}}},
   {"data":{"name":"i_err"},"transform":[{"fold":["v","v2"],"as":["k","v"]}],"mark":{"type":"tick","orient":"horizontal","size":7}},
   {"data":{"values":[{"g":"c1","lab":"ND","v":0}]},"mark":{"type":"text","dy":-15,"baseline":"middle"},"encoding":{"x":{"field":"g","type":"nominal","bandPosition":1.33,"scale":{"domain":["c1","c2","c3","c4"],"range":[0,82],"paddingInner":0.4,"paddingOuter":0.25,"align":0.9}},"text":{"field":"lab"}}},
   {"data":{"values":[{"g":"c3","g2":"c4","v":9.73}]},"mark":"rule","encoding":{"x":{"field":"g","type":"nominal","bandPosition":0.17,"scale":{"domain":["c1","c2","c3","c4"],"range":[0,82],"paddingInner":0.4,"paddingOuter":0.25,"align":0.9}},"x2":{"field":"g2","bandPosition":0.75}}},
   {"data":{"values":[{"g":"c3","v":10.2,"lab":"***"}]},"mark":{"type":"text","baseline":"middle","fontSize":12},"encoding":{"x":{"field":"g","type":"nominal","bandPosition":1.33,"scale":{"domain":["c1","c2","c3","c4"],"range":[0,82],"paddingInner":0.4,"paddingOuter":0.25,"align":0.9}},"text":{"field":"lab"}}}
  ]},
 {"width":122,"height":267,"data":{"values":[]},"mark":"point"},
 {"width":144,"height":267,
  "title":{"text":"j","dx":-50,"dy":95},
  "encoding":{"x":{"field":"h","type":"quantitative","scale":{"domain":[0,150],"range":[2,245],"nice":false},"axis":{"values":[0,50,100,150],"title":"Hours after HSV-1 infection","labelPadding":3,"titlePadding":6}},
    "y":{"field":"p","type":"quantitative","scale":{"domain":[0,100],"range":[266,106],"nice":false},"axis":{"offset":-2,"values":[0,50,100],"title":"Survival (%)","titleX":-45,"titleBaseline":"middle"}},
    "color":{"field":"t","type":"nominal","scale":{"domain":["PBS","EGCG"],"range":["#000000","#22c322"]},"legend":{"orient":"none","legendX":10,"legendY":216,"title":null,"symbolSize":400,"rowPadding":0,"labelOffset":5,"labelExpr":"datum.label + ' (n = 15)'","encode":{"symbols":{"update":{"shape":{"signal":"datum.value == 'PBS' ? 'M-1,0H1M-0.33,-0.33H0.33V0.33H-0.33Z' : 'M-1,0H1M0.33,0A0.33,0.33,0,1,1,-0.33,0A0.33,0.33,0,1,1,0.33,0Z'"},"stroke":{"signal":"datum.value == 'PBS' ? '#000000' : '#22c322'"},"fill":{"signal":"datum.value == 'PBS' ? '#000000' : '#22c322'"},"strokeWidth":{"value":1.3},"opacity":{"value":1}}}}}}},
  "layer":[
   {"data":{"name":"j_s"},"transform":[{"filter":"datum.t == 'EGCG'"}],"mark":{"type":"line","interpolate":"step-after","strokeWidth":1.2}},
   {"data":{"name":"j_s"},"transform":[{"filter":"datum.t == 'PBS'"}],"mark":{"type":"line","interpolate":"step-after","strokeWidth":1.2}},
   {"data":{"name":"j_s"},"transform":[{"filter":"datum.t == 'EGCG' && datum.h > 0"}],"mark":{"type":"point","shape":"circle","size":36}},
   {"data":{"name":"j_s"},"transform":[{"filter":"datum.t == 'PBS' && datum.h > 0"}],"mark":{"type":"point","shape":"square","size":40}},
   {"data":{"values":[{"h":110,"p":52,"lab":"***"}]},"mark":{"type":"text","baseline":"middle","fontSize":12},"encoding":{"text":{"field":"lab"},"color":{"value":"#000"}}},
   {"data":{"values":[{"h":119.8,"p":41,"p2":59}]},"mark":"rule","encoding":{"y2":{"field":"p2"},"color":{"value":"#000"}}}
  ]},
 {"width":62,"height":267,"data":{"values":[]},"mark":"point"},
 {"width":104,"height":267,"data":{"values":[]},"mark":"point"},

 {"width":86,"height":226,"data":{"values":[]},"mark":"point"},
 {"width":192,"height":226,
  "title":{"text":"k","dx":-78,"dy":82},
  "encoding":{"x":{"field":"d","type":"quantitative","scale":{"domain":[-0.5,14.5],"range":[0,228],"nice":false,"zero":false},"axis":{"values":[0,2,4,6,8,10,12,14],"title":"Days after EGCG treatment","labelPadding":4.5,"titlePadding":9}},
    "y":{"field":"w","type":"quantitative","scale":{"domain":[0,25],"range":[226,74],"nice":false,"zero":false},"axis":{"values":[0,5,10,15,20,25],"title":"Body weight (g)","titleX":-42,"titleBaseline":"middle"}},
    "color":{"field":"t","type":"nominal","scale":{"domain":["PBS","EGCG"],"range":["#000000","#22c322"]},"legend":{"orient":"none","legendX":15,"legendY":173,"title":null,"symbolSize":324,"rowPadding":2,"labelOffset":6,"labelExpr":"datum.label + ' (n = 5)'","encode":{"symbols":{"update":{"shape":{"signal":"datum.value == 'PBS' ? 'M-1,0H1M0.4,0A0.4,0.4,0,1,1,-0.4,0A0.4,0.4,0,1,1,0.4,0Z' : 'M-1,0H1M-0.45,-0.32H0.45L0,0.45Z'"},"stroke":{"signal":"datum.value == 'PBS' ? '#000000' : '#22c322'"},"fill":{"signal":"datum.value == 'PBS' ? '#000000' : '#22c322'"},"strokeWidth":{"value":1.5},"opacity":{"value":1}}}}}}},
  "layer":[
   {"data":{"name":"k_w"},"transform":[{"filter":"datum.t == 'PBS'"}],"mark":{"type":"line","strokeWidth":1.5}},
   {"data":{"name":"k_w"},"transform":[{"filter":"datum.t == 'PBS'"}],"mark":{"type":"point","shape":"circle","size":45}},
   {"data":{"name":"k_w"},"transform":[{"filter":"datum.t == 'EGCG'"}],"mark":{"type":"line","strokeWidth":1.5}},
   {"data":{"name":"k_w"},"transform":[{"filter":"datum.t == 'EGCG'"}],"mark":{"type":"point","shape":"triangle-down","size":50}}
  ]},
 {"width":90,"height":226,"data":{"values":[]},"mark":"point"},
 {"width":122,"height":226,"data":{"values":[]},"mark":"point"},
 {"width":144,"height":226,
  "title":{"text":"l","dx":-59,"dy":82},
  "encoding":{"x":{"field":"d","type":"quantitative","scale":{"domain":[-0.5,14.5],"range":[0,229],"nice":false,"zero":false},"axis":{"values":[0,2,4,6,8,10,12,14],"title":"Days after EGCG treatment","labelPadding":4.5,"titlePadding":9}},
    "y":{"field":"w","type":"quantitative","scale":{"domain":[0,20],"range":[226,78],"nice":false,"zero":false},"axis":{"values":[0,5,10,15,20],"title":"Body weight (g)","titleX":-43,"titleBaseline":"middle"}},
    "color":{"field":"t","type":"nominal","scale":{"domain":["PBS","EGCG"],"range":["#000000","#22c322"]},"legend":{"orient":"none","legendX":20,"legendY":168,"title":null,"symbolSize":324,"rowPadding":5,"labelOffset":6,"labelExpr":"datum.label + ' (n = 5)'","encode":{"symbols":{"update":{"shape":{"signal":"datum.value == 'PBS' ? 'M-1,0H1M0.4,0A0.4,0.4,0,1,1,-0.4,0A0.4,0.4,0,1,1,0.4,0Z' : 'M-1,0H1M-0.45,-0.32H0.45L0,0.45Z'"},"stroke":{"signal":"datum.value == 'PBS' ? '#000000' : '#22c322'"},"fill":{"signal":"datum.value == 'PBS' ? '#000000' : '#22c322'"},"strokeWidth":{"value":1.5},"opacity":{"value":1}}}}}}},
  "layer":[
   {"data":{"name":"l_w"},"transform":[{"filter":"datum.t == 'PBS'"}],"mark":{"type":"line","strokeWidth":1.5}},
   {"data":{"name":"l_w"},"transform":[{"filter":"datum.t == 'PBS'"}],"mark":{"type":"point","shape":"circle","size":45}},
   {"data":{"name":"l_w"},"transform":[{"filter":"datum.t == 'EGCG'"}],"mark":{"type":"line","strokeWidth":1.5}},
   {"data":{"name":"l_w"},"transform":[{"filter":"datum.t == 'EGCG'"}],"mark":{"type":"point","shape":"triangle-down","size":50}}
  ]},
 {"width":62,"height":226,"data":{"values":[]},"mark":"point"},
 {"width":104,"height":226,"data":{"values":[]},"mark":"point"}
],
"columns":7,
"bounds":"flush",
"spacing":0,
"resolve":{"scale":{"color":"independent","shape":"independent"},"legend":{"color":"independent","shape":"independent"}}
}
